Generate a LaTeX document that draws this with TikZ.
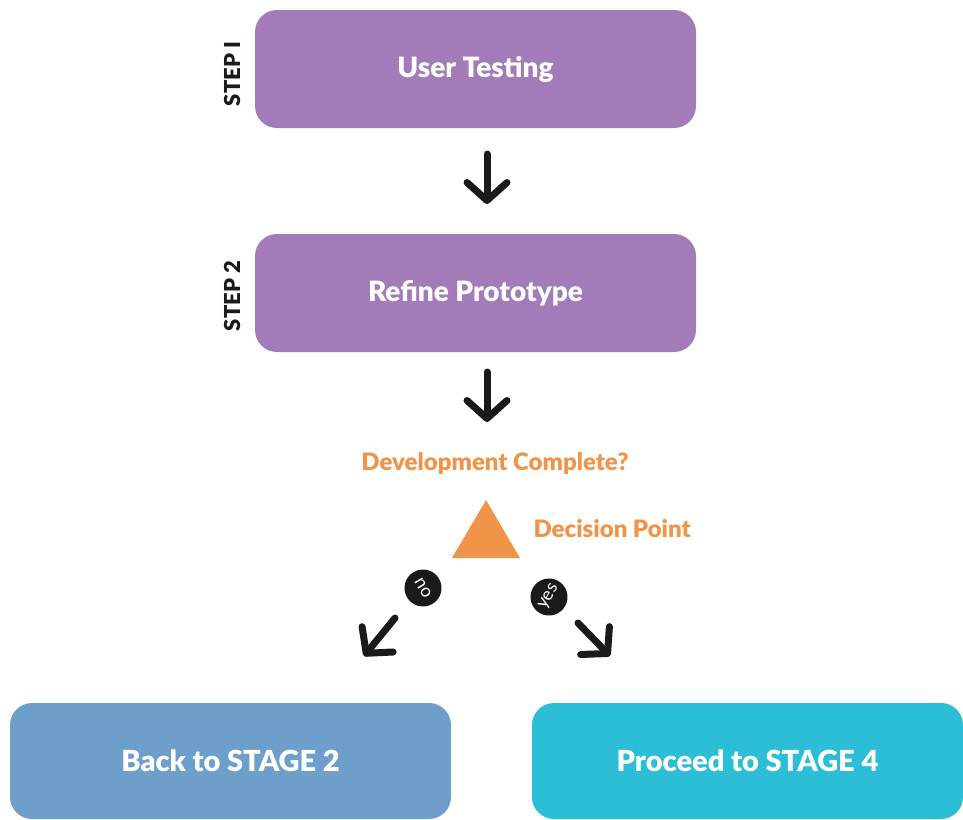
\documentclass[tikz,border=0pt]{standalone}
\usepackage{fontspec}
\setmainfont{Lato}[BoldFont={Lato Black}]
\usetikzlibrary{arrows.meta}
\definecolor{purp}{HTML}{A27BB8}
\definecolor{orng}{HTML}{F0944A}
\definecolor{bluebox}{HTML}{6E9FCB}
\definecolor{cyanbox}{HTML}{2BBED6}
\definecolor{ink}{HTML}{1A1A1A}
\tikzset{
  stepbox/.style={fill=purp, rounded corners=22pt, minimum width=441pt, minimum height=118pt, text=white, font=\bfseries\fontsize{28}{31}\selectfont},
  stagebox/.style={rounded corners=22pt, minimum width=441pt, minimum height=116pt, text=white, font=\bfseries\fontsize{29}{32}\selectfont},
  steplabel/.style={rotate=90, font=\bfseries\fontsize{22}{24}\selectfont, text=ink},
  orangetext/.style={text=orng, font=\bfseries\fontsize{24}{27}\selectfont},
  flowarrow/.style={draw=ink, line width=7pt, line cap=round, -{Straight Barb[length=18pt,width=40pt,line width=7pt,round]}},
  badge/.style={circle, fill=ink, minimum size=37pt, inner sep=0pt, text=white, font=\fontsize{18}{19}\selectfont},
}
\begin{document}
\begin{tikzpicture}[x=1pt,y=-1pt]
\useasboundingbox (0,0) rectangle (963,819);
\node[stepbox] (s1) at (475.5,69) {User Testing};
\node[steplabel] (l1) at (232,74) {STEP I};
\node[stepbox] (s2) at (475.5,293) {Refine Prototype};
\node[steplabel] (l2) at (232,296) {STEP 2};
\coordinate (a1s) at (487,154);
\coordinate (a1e) at (487,204);
\draw[flowarrow] (a1s) -- (a1e);
\coordinate (a2s) at (487,372);
\coordinate (a2e) at (487,422);
\draw[flowarrow] (a2s) -- (a2e);
\node[orangetext] (q) at (495,463) {Development Complete?};
\fill[orng] (452,558) -- (520,558) -- (486,500) -- cycle;
\node[orangetext, anchor=west] (dp) at (530,529) {Decision Point};
\node[badge, rotate=-60] (no) at (423,588) {no};
\node[badge, rotate=60] (yes) at (549,597) {yes};
\coordinate (ns) at (395,618);
\coordinate (ne) at (364,656);
\draw[flowarrow] (ns) -- (ne);
\coordinate (ys) at (578,623);
\coordinate (ye) at (610,656);
\draw[flowarrow] (ys) -- (ye);
\node[stagebox, fill=bluebox] (back) at (230.5,761) {Back to STAGE 2};
\node[stagebox, fill=cyanbox, minimum width=431pt] (fwd) at (747.5,761) {Proceed to STAGE 4};
\end{tikzpicture}
\end{document}
